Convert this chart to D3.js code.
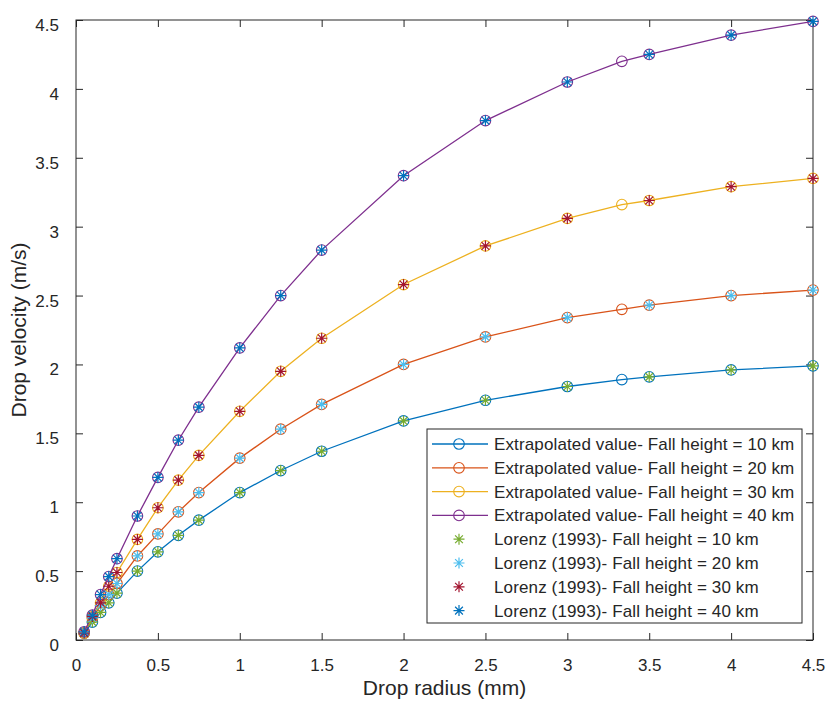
<!DOCTYPE html>
<html><head><meta charset="utf-8">
<script src="https://cdn.jsdelivr.net/npm/d3@7/dist/d3.min.js"></script>
<style>body{margin:0;background:#fff}svg{display:block}text{font-family:"Liberation Sans",Arial,sans-serif;fill:#262626}</style>
</head><body><svg id="c" width="829" height="702"></svg>
<script>
// Data
const radius = [0.05,0.1,0.15,0.2,0.25,0.375,0.5,0.625,0.75,1,1.25,1.5,2,2.5,3,3.333,3.5,4,4.5];
const extrap10 = [0.05,0.13,0.20,0.27,0.34,0.50,0.64,0.76,0.87,1.07,1.23,1.37,1.59,1.74,1.84,1.89,1.91,1.96,1.99];
const extrap20 = [0.05,0.16,0.25,0.33,0.41,0.61,0.77,0.93,1.07,1.32,1.53,1.71,2.00,2.20,2.34,2.40,2.43,2.50,2.54];
const extrap30 = [0.05,0.17,0.27,0.39,0.49,0.73,0.96,1.16,1.34,1.66,1.95,2.19,2.58,2.86,3.06,3.16,3.19,3.29,3.35];
const extrap40 = [0.06,0.18,0.33,0.46,0.59,0.90,1.18,1.45,1.69,2.12,2.50,2.83,3.37,3.77,4.05,4.20,4.25,4.39,4.49];
const lorenzRadius = [0.05,0.1,0.15,0.2,0.25,0.375,0.5,0.625,0.75,1,1.25,1.5,2,2.5,3,3.5,4,4.5];
const lorenz10 = [0.05,0.13,0.20,0.27,0.34,0.50,0.64,0.76,0.87,1.07,1.23,1.37,1.59,1.74,1.84,1.91,1.96,1.99];
const lorenz20 = [0.05,0.16,0.25,0.33,0.41,0.61,0.77,0.93,1.07,1.32,1.53,1.71,2.00,2.20,2.34,2.43,2.50,2.54];
const lorenz30 = [0.05,0.17,0.27,0.39,0.49,0.73,0.96,1.16,1.34,1.66,1.95,2.19,2.58,2.86,3.06,3.19,3.29,3.35];
const lorenz40 = [0.06,0.18,0.33,0.46,0.59,0.90,1.18,1.45,1.69,2.12,2.50,2.83,3.37,3.77,4.05,4.25,4.39,4.49];
const xTicks = [0,0.5,1,1.5,2,2.5,3,3.5,4,4.5];
const yTicks = [0,0.5,1,1.5,2,2.5,3,3.5,4,4.5];
const extrapNames = ["Extrapolated value- Fall height = 10 km","Extrapolated value- Fall height = 20 km","Extrapolated value- Fall height = 30 km","Extrapolated value- Fall height = 40 km"];
const lorenzNames = ["Lorenz (1993)- Fall height = 10 km","Lorenz (1993)- Fall height = 20 km","Lorenz (1993)- Fall height = 30 km","Lorenz (1993)- Fall height = 40 km"];
const lineColors = ["#0072BD","#D95319","#EDB120","#7E2F8E"];
const starColors = ["#77AC30","#4DBEEE","#A2142F","#0072BD"];

const extrap = [extrap10,extrap20,extrap30,extrap40];
const lorenz = [lorenz10,lorenz20,lorenz30,lorenz40];

const L=76,R=813,T=20,B=640;
const x = d3.scaleLinear().domain([0,4.5]).range([L,R]);
const y = d3.scaleLinear().domain([0,4.5]).range([B,T]);
const svg = d3.select("#c");
const axisCol="#262626";
const textCol="#3a3a3a";

// axes box
svg.append("rect").attr("x",L).attr("y",T).attr("width",R-L).attr("height",B-T)
  .attr("fill","none").attr("stroke",axisCol).attr("stroke-width",1);

const tl=7;
// x ticks
const xa = svg.append("g").attr("transform",`translate(0,${B})`)
  .call(d3.axisBottom(x).tickValues(xTicks).tickSizeInner(-tl).tickSizeOuter(0).tickPadding(19).tickFormat(d3.format("")));
xa.select(".domain").remove();
xa.selectAll("line").attr("stroke",axisCol);
xa.selectAll("text").attr("font-size","17px").attr("fill",textCol).attr("font-family",null);
const xt = svg.append("g").attr("transform",`translate(0,${T})`)
  .call(d3.axisTop(x).tickValues(xTicks).tickSizeInner(-tl).tickSizeOuter(0).tickFormat(""));
xt.select(".domain").remove(); xt.selectAll("line").attr("stroke",axisCol);
// y ticks
const ya = svg.append("g").attr("transform",`translate(${L},0)`)
  .call(d3.axisLeft(y).tickValues(yTicks).tickSizeInner(-tl).tickSizeOuter(0).tickPadding(17).tickFormat(d3.format("")));
ya.select(".domain").remove();
ya.selectAll("line").attr("stroke",axisCol);
ya.selectAll("text").attr("font-size","17px").attr("fill",textCol).attr("dy","0.62em").attr("font-family",null);
const yr = svg.append("g").attr("transform",`translate(${R},0)`)
  .call(d3.axisRight(y).tickValues(yTicks).tickSizeInner(-tl).tickSizeOuter(0).tickFormat(""));
yr.select(".domain").remove(); yr.selectAll("line").attr("stroke",axisCol);

// axis labels
svg.append("text").attr("x",(L+R)/2).attr("y",695).attr("text-anchor","middle").attr("font-size","21px").attr("fill",textCol).text("Drop radius (mm)");
svg.append("text").attr("transform",`translate(26,${(T+B)/2+0}) rotate(-90)`).attr("text-anchor","middle").attr("font-size","21px").attr("fill",textCol).text("Drop velocity (m/s)");

// star path
function starPath(s){
  const d=s*0.7071;
  return `M${-s},0L${s},0M0,${-s}L0,${s}M${-d},${-d}L${d},${d}M${-d},${d}L${d},${-d}`;
}
const line = d3.line().x((d)=>x(d[0])).y((d)=>y(d[1]));
const plot = svg.append("g");
extrap.forEach((ser,i)=>{
  const pts = radius.map((r,j)=>[r,ser[j]]);
  plot.append("path").attr("d",line(pts)).attr("fill","none").attr("stroke",lineColors[i]).attr("stroke-width",1.3);
  plot.selectAll(null).data(pts).enter().append("circle")
    .attr("cx",d=>x(d[0])).attr("cy",d=>y(d[1])).attr("r",5.3)
    .attr("fill","none").attr("stroke",lineColors[i]).attr("stroke-width",1.1);
});
lorenz.forEach((ser,i)=>{
  const pts = lorenzRadius.map((r,j)=>[r,ser[j]]);
  plot.selectAll(null).data(pts).enter().append("path")
    .attr("transform",d=>`translate(${x(d[0])},${y(d[1])})`)
    .attr("d",starPath(5.5)).attr("fill","none").attr("stroke",starColors[i]).attr("stroke-width",1.2);
});

// legend
const lg = svg.append("g");
const lx=427, ly=429, lw=375, lh=194;
lg.append("rect").attr("x",lx).attr("y",ly).attr("width",lw).attr("height",lh).attr("fill","#fff").attr("stroke",axisCol).attr("stroke-width",1);
const rowY = (k)=>444+k*23.8;
extrapNames.forEach((n,i)=>{
  const yy=rowY(i);
  lg.append("line").attr("x1",432).attr("x2",488).attr("y1",yy).attr("y2",yy).attr("stroke",lineColors[i]).attr("stroke-width",1.3);
  lg.append("circle").attr("cx",459).attr("cy",yy).attr("r",5.3).attr("fill","none").attr("stroke",lineColors[i]).attr("stroke-width",1.1);
  lg.append("text").attr("x",494).attr("y",yy+6).attr("font-size","17px").attr("letter-spacing","0.13px").attr("fill","#262626").text(n);
});
lorenzNames.forEach((n,i)=>{
  const yy=rowY(i+4);
  lg.append("path").attr("transform",`translate(459,${yy})`).attr("d",starPath(5.5)).attr("fill","none").attr("stroke",starColors[i]).attr("stroke-width",1.2);
  lg.append("text").attr("x",494).attr("y",yy+6).attr("font-size","17px").attr("letter-spacing","0.13px").attr("fill","#262626").text(n);
});
</script></body></html>
